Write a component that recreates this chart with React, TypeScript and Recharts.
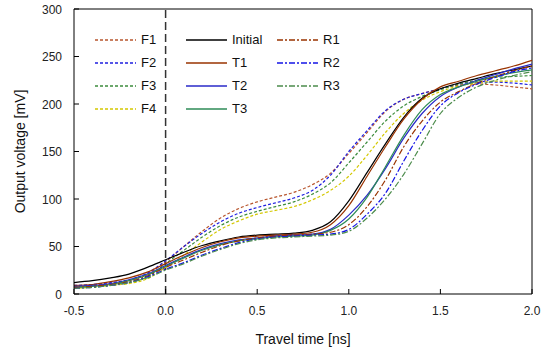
import React from 'react';
import { LineChart, Line, XAxis, YAxis, ReferenceLine } from 'recharts';

// travel time grid [ns]
const times = [-0.5, -0.4, -0.3, -0.2, -0.1, 0, 0.1, 0.2, 0.3, 0.4, 0.5, 0.6, 0.7, 0.8, 0.9, 1.0, 1.1, 1.2, 1.3, 1.4, 1.5, 1.6, 1.7, 1.8, 1.9, 2.0];

// output voltage [mV]
const f1 = [8, 9, 11, 14, 21, 34, 50, 66, 80, 90, 97, 102, 107, 115, 127, 148, 170, 192, 205, 211, 216, 220, 221, 220, 218, 216];
const f2 = [9, 10, 12, 15, 22, 35, 50, 64, 76, 85, 91, 96, 101, 109, 125, 150, 172, 193, 205, 211, 216, 221, 223, 223, 222, 220];
const f3 = [7, 8, 10, 12, 18, 32, 46, 60, 72, 81, 87, 92, 97, 105, 117, 138, 160, 182, 198, 208, 215, 221, 225, 228, 229, 230];
const f4 = [6, 7, 9, 11, 16, 28, 41, 55, 68, 77, 84, 88, 92, 99, 109, 124, 146, 170, 190, 204, 213, 219, 222, 224, 224, 224];
const initial = [12, 14, 17, 21, 28, 36, 44, 51, 56, 60, 62, 63, 64, 67, 76, 98, 128, 158, 186, 206, 216, 222, 227, 232, 236, 240];
const t1 = [9, 10, 13, 17, 23, 32, 41, 49, 55, 59, 61, 62, 63, 65, 73, 93, 124, 155, 184, 205, 218, 224, 230, 235, 240, 246];
const t2 = [8, 9, 11, 15, 21, 30, 39, 47, 53, 57, 59, 61, 62, 63, 68, 83, 104, 132, 164, 190, 208, 218, 225, 231, 237, 242];
const t3 = [7, 8, 10, 14, 20, 29, 38, 46, 52, 56, 58, 60, 61, 62, 67, 79, 102, 134, 167, 194, 210, 218, 224, 229, 233, 236];
const r1 = [7, 8, 10, 13, 19, 28, 36, 44, 51, 56, 59, 61, 62, 63, 65, 73, 92, 120, 155, 182, 202, 213, 222, 229, 235, 240];
const r2 = [6, 7, 9, 12, 18, 26, 33, 41, 48, 54, 58, 60, 61, 62, 63, 68, 84, 106, 140, 172, 198, 212, 221, 228, 234, 238];
const r3 = [6, 7, 9, 12, 17, 25, 32, 40, 47, 53, 57, 59, 60, 61, 62, 66, 80, 100, 126, 158, 190, 207, 218, 225, 230, 234];

const xTicks = [-0.5, 0, 0.5, 1.0, 1.5, 2.0];
const yTicks = [0, 50, 100, 150, 200, 250, 300];

const DASH = '3 2';
const DASH_DOT = '6 2 2 2';

const series = [
  { key: 'F1', values: f1, color: '#b8562e', dash: DASH },
  { key: 'F2', values: f2, color: '#1f1fe0', dash: DASH },
  { key: 'F3', values: f3, color: '#3c8c3c', dash: DASH },
  { key: 'F4', values: f4, color: '#d4c800', dash: DASH },
  { key: 'Initial', values: initial, color: '#000000', dash: undefined },
  { key: 'T1', values: t1, color: '#993300', dash: undefined },
  { key: 'T2', values: t2, color: '#2a2ac8', dash: undefined },
  { key: 'T3', values: t3, color: '#2e8b57', dash: undefined },
  { key: 'R1', values: r1, color: '#993300', dash: DASH_DOT },
  { key: 'R2', values: r2, color: '#1515e6', dash: DASH_DOT },
  { key: 'R3', values: r3, color: '#4c8c4c', dash: DASH_DOT },
];

const data = times.map((t, i) => {
  const row: Record<string, number> = { t };
  series.forEach((s) => { row[s.key] = s.values[i]; });
  return row;
});

const FONT = 'Liberation Sans, Arial, sans-serif';

// inward tick marks, labels outside
const XTick = ({ x, y, payload }: any) => (
  <g>
    <line x1={x} x2={x} y1={y} y2={y - 5} stroke="#000" />
    <text x={x} y={y + 21} textAnchor="middle" fill="#222" fontSize={12} fontFamily={FONT}>
      {Number(payload.value).toFixed(1)}
    </text>
  </g>
);

const YTick = ({ x, y, payload }: any) => (
  <g>
    <line x1={x} x2={x + 5} y1={y} y2={y} stroke="#000" />
    <text x={x - 12} y={y + 4.5} textAnchor="end" fill="#222" fontSize={12} fontFamily={FONT}>
      {payload.value}
    </text>
  </g>
);

// legend is laid out in three columns inside the plot
const legendCols = [
  { x: 95, keys: ['F1', 'F2', 'F3', 'F4'] },
  { x: 186, keys: ['Initial', 'T1', 'T2', 'T3'] },
  { x: 277, keys: ['R1', 'R2', 'R3'] },
];

const ChartLegend = () => (
  <div style={{ position: 'absolute', left: 0, top: 0, pointerEvents: 'none' }}>
    {legendCols.map((col) =>
      col.keys.map((k, row) => {
        const s = series.find((x) => x.key === k)!;
        const y = 40 + row * 23;
        return (
          <div key={k} style={{ position: 'absolute', left: col.x, top: y - 8, display: 'flex', alignItems: 'center', whiteSpace: 'nowrap' }}>
            <svg width={41} height={16}>
              <line x1={0} y1={8} x2={41} y2={8} stroke={s.color} strokeWidth={1.3} strokeDasharray={s.dash} />
            </svg>
            <span style={{ marginLeft: 5, fontFamily: FONT, fontSize: 13, color: '#111', lineHeight: '16px' }}>{k}</span>
          </div>
        );
      })
    )}
  </div>
);

export default function App() {
  return (
    <div style={{ position: 'absolute', left: 0, top: 0, width: 550, height: 354, background: '#fff' }}>
      <LineChart width={550} height={354} data={data} margin={{ top: 9, right: 18, left: 0, bottom: 0 }}>
        <XAxis
          dataKey="t"
          type="number"
          domain={[-0.5, 2]}
          ticks={xTicks}
          height={60}
          stroke="#000"
          tickLine={false}
          tickSize={0}
          tickMargin={0}
          tick={<XTick />}
          label={{ value: 'Travel time [ns]', position: 'insideBottom', offset: 10, fill: '#111', fontSize: 14, fontFamily: FONT }}
        />
        <YAxis
          type="number"
          domain={[0, 300]}
          ticks={yTicks}
          width={74}
          stroke="#000"
          tickLine={false}
          tickSize={0}
          tickMargin={0}
          tick={<YTick />}
          label={{ value: 'Output voltage [mV]', angle: -90, position: 'insideLeft', offset: 20, fill: '#111', fontSize: 14, fontFamily: FONT, style: { textAnchor: 'middle' } }}
        />
        <ReferenceLine y={300} stroke="#000" />
        <ReferenceLine x={2} stroke="#000" />
        <ReferenceLine x={0} stroke="#333" strokeWidth={1.5} strokeDasharray="8 4" />
        {series.map((s) => (
          <Line
            key={s.key}
            dataKey={s.key}
            type="monotone"
            stroke={s.color}
            strokeWidth={1.2}
            strokeDasharray={s.dash}
            dot={false}
            isAnimationActive={false}
          />
        ))}
      </LineChart>
      <ChartLegend />
    </div>
  );
}
